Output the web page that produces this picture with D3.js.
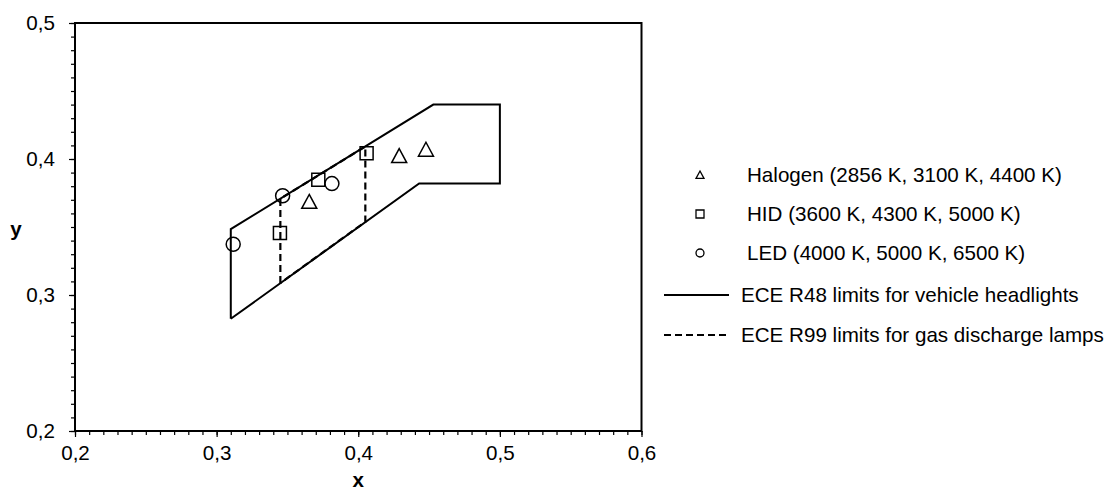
<!DOCTYPE html>
<html>
<head>
<meta charset="utf-8">
<script src="https://cdn.jsdelivr.net/npm/d3@7"></script>
<style>
  body { margin: 0; background: #fff; }
  text { font-family: "Liberation Sans", Arial, sans-serif; }
</style>
</head>
<body>
<script>
// chromaticity points
var halogenX = [0.3654, 0.4289, 0.4478];
var halogenY = [0.3684, 0.4021, 0.4068];
var hidX = [0.3447, 0.3718, 0.4059];
var hidY = [0.3456, 0.3848, 0.4043];
var ledX = [0.3117, 0.3466, 0.3814];
var ledY = [0.3373, 0.3730, 0.3819];

// limit outlines
var r48X = [0.310, 0.310, 0.453, 0.500, 0.500, 0.443, 0.310];
var r48Y = [0.2825, 0.3484, 0.440, 0.440, 0.382, 0.382, 0.2825];
var r99X = [0.345, 0.345, 0.405, 0.405, 0.345];
var r99Y = [0.3088, 0.3708, 0.4092, 0.3538, 0.3088];

var xTicks = [0.2, 0.3, 0.4, 0.5, 0.6];
var xTickLabels = ['0,2', '0,3', '0,4', '0,5', '0,6'];
var yTicks = [0.2, 0.3, 0.4, 0.5];
var yTickLabels = ['0,2', '0,3', '0,4', '0,5'];

var legendNames = [
  'Halogen (2856 K, 3100 K, 4400 K)',
  'HID (3600 K, 4300 K, 5000 K)',
  'LED (4000 K, 5000 K, 6500 K)',
  'ECE R48 limits for vehicle headlights',
  'ECE R99 limits for gas discharge lamps'
];

var width = 1113, height = 487;
var plotLeft = 75, plotRight = 641.5, plotTop = 23, plotBottom = 431;
var fontSize = 20.6;

var svg = d3.select('body').append('svg')
  .attr('width', width)
  .attr('height', height);

var x = d3.scaleLinear().domain([0.2, 0.6]).range([plotLeft, plotRight]);
var y = d3.scaleLinear().domain([0.2, 0.5]).range([plotBottom, plotTop]);

var minorX = d3.range(0.2, 0.6001, 0.01);
var minorY = d3.range(0.2, 0.5001, 0.01);

// minor ticks
svg.append('g')
  .attr('transform', 'translate(0,' + plotBottom + ')')
  .call(d3.axisBottom(x).tickValues(minorX).tickSize(4).tickFormat(''))
  .call(function(g) { g.select('.domain').remove(); });
svg.append('g')
  .attr('transform', 'translate(' + plotLeft + ',0)')
  .call(d3.axisLeft(y).tickValues(minorY).tickSize(4).tickFormat(''))
  .call(function(g) { g.select('.domain').remove(); });

// major ticks + labels
var xAxis = svg.append('g')
  .attr('transform', 'translate(0,' + plotBottom + ')')
  .call(d3.axisBottom(x).tickValues(xTicks).tickSize(6).tickSizeOuter(0)
    .tickFormat(function(d, i) { return xTickLabels[i]; }));
xAxis.select('.domain').remove();
xAxis.selectAll('text').attr('font-size', fontSize).attr('dy', '0.95em').attr('fill', '#000')
  .style('font-family', '"Liberation Sans", Arial, sans-serif');

var yAxis = svg.append('g')
  .attr('transform', 'translate(' + plotLeft + ',0)')
  .call(d3.axisLeft(y).tickValues(yTicks).tickSize(6).tickSizeOuter(0)
    .tickFormat(function(d, i) { return yTickLabels[i]; }));
yAxis.select('.domain').remove();
yAxis.selectAll('text').attr('font-size', fontSize).attr('x', -20).attr('fill', '#000')
  .style('font-family', '"Liberation Sans", Arial, sans-serif');

svg.selectAll('.tick line').attr('stroke', '#000').attr('stroke-width', 1.2);

// plot frame
svg.append('rect')
  .attr('x', plotLeft).attr('y', plotTop)
  .attr('width', plotRight - plotLeft).attr('height', plotBottom - plotTop)
  .attr('fill', 'none').attr('stroke', '#000').attr('stroke-width', 2);

// axis titles
svg.append('text').attr('x', (plotLeft + plotRight) / 2).attr('y', 487)
  .attr('text-anchor', 'middle').attr('font-size', fontSize).attr('font-weight', 'bold').text('x');
svg.append('text').attr('x', 16).attr('y', 236)
  .attr('text-anchor', 'middle').attr('font-size', fontSize).attr('font-weight', 'bold').text('y');

// limit lines
var line = d3.line()
  .x(function(d) { return x(d[0]); })
  .y(function(d) { return y(d[1]); });

svg.append('path')
  .datum(d3.zip(r48X, r48Y))
  .attr('d', line)
  .attr('fill', 'none').attr('stroke', '#000').attr('stroke-width', 2);

svg.append('path')
  .datum(d3.zip(r99X, r99Y))
  .attr('d', line)
  .attr('fill', 'none').attr('stroke', '#000').attr('stroke-width', 2.2)
  .attr('stroke-dasharray', '7,4');

// marker shapes
function triPath(s) {
  return 'M0,' + (-s) + 'L' + s + ',' + (s * 0.85) + 'L' + (-s) + ',' + (s * 0.85) + 'Z';
}
function sqPath(s) {
  return 'M' + (-s) + ',' + (-s) + 'H' + s + 'V' + s + 'H' + (-s) + 'Z';
}

svg.selectAll('.halogen')
  .data(d3.zip(halogenX, halogenY))
  .enter().append('path')
  .attr('class', 'halogen')
  .attr('transform', function(d) { return 'translate(' + x(d[0]) + ',' + y(d[1]) + ')'; })
  .attr('d', triPath(7.5))
  .attr('fill', 'none').attr('stroke', '#000').attr('stroke-width', 1.5);

svg.selectAll('.hid')
  .data(d3.zip(hidX, hidY))
  .enter().append('path')
  .attr('class', 'hid')
  .attr('transform', function(d) { return 'translate(' + x(d[0]) + ',' + y(d[1]) + ')'; })
  .attr('d', sqPath(6.5))
  .attr('fill', 'none').attr('stroke', '#000').attr('stroke-width', 1.5);

svg.selectAll('.led')
  .data(d3.zip(ledX, ledY))
  .enter().append('circle')
  .attr('class', 'led')
  .attr('cx', function(d) { return x(d[0]); })
  .attr('cy', function(d) { return y(d[1]); })
  .attr('r', 7)
  .attr('fill', 'none').attr('stroke', '#000').attr('stroke-width', 1.5);

// legend
var legRows = [175, 214, 253, 295, 335];
var leg = svg.append('g');

leg.append('path').attr('transform', 'translate(700,' + legRows[0] + ')')
  .attr('d', triPath(4)).attr('fill', 'none').attr('stroke', '#000').attr('stroke-width', 1.3);
leg.append('path').attr('transform', 'translate(700,' + legRows[1] + ')')
  .attr('d', sqPath(4)).attr('fill', 'none').attr('stroke', '#000').attr('stroke-width', 1.3);
leg.append('circle').attr('cx', 700).attr('cy', legRows[2]).attr('r', 4)
  .attr('fill', 'none').attr('stroke', '#000').attr('stroke-width', 1.3);
leg.append('line').attr('x1', 664).attr('x2', 729).attr('y1', legRows[3]).attr('y2', legRows[3])
  .attr('stroke', '#000').attr('stroke-width', 2);
leg.append('line').attr('x1', 664).attr('x2', 729).attr('y1', legRows[4]).attr('y2', legRows[4])
  .attr('stroke', '#000').attr('stroke-width', 2).attr('stroke-dasharray', '7,4');

leg.selectAll('.legtext')
  .data(legendNames)
  .enter().append('text')
  .attr('class', 'legtext')
  .attr('x', function(d, i) { return i < 3 ? 747 : 741; })
  .attr('y', function(d, i) { return legRows[i] + 7; })
  .attr('font-size', fontSize)
  .text(function(d) { return d; });
</script>
</body>
</html>
